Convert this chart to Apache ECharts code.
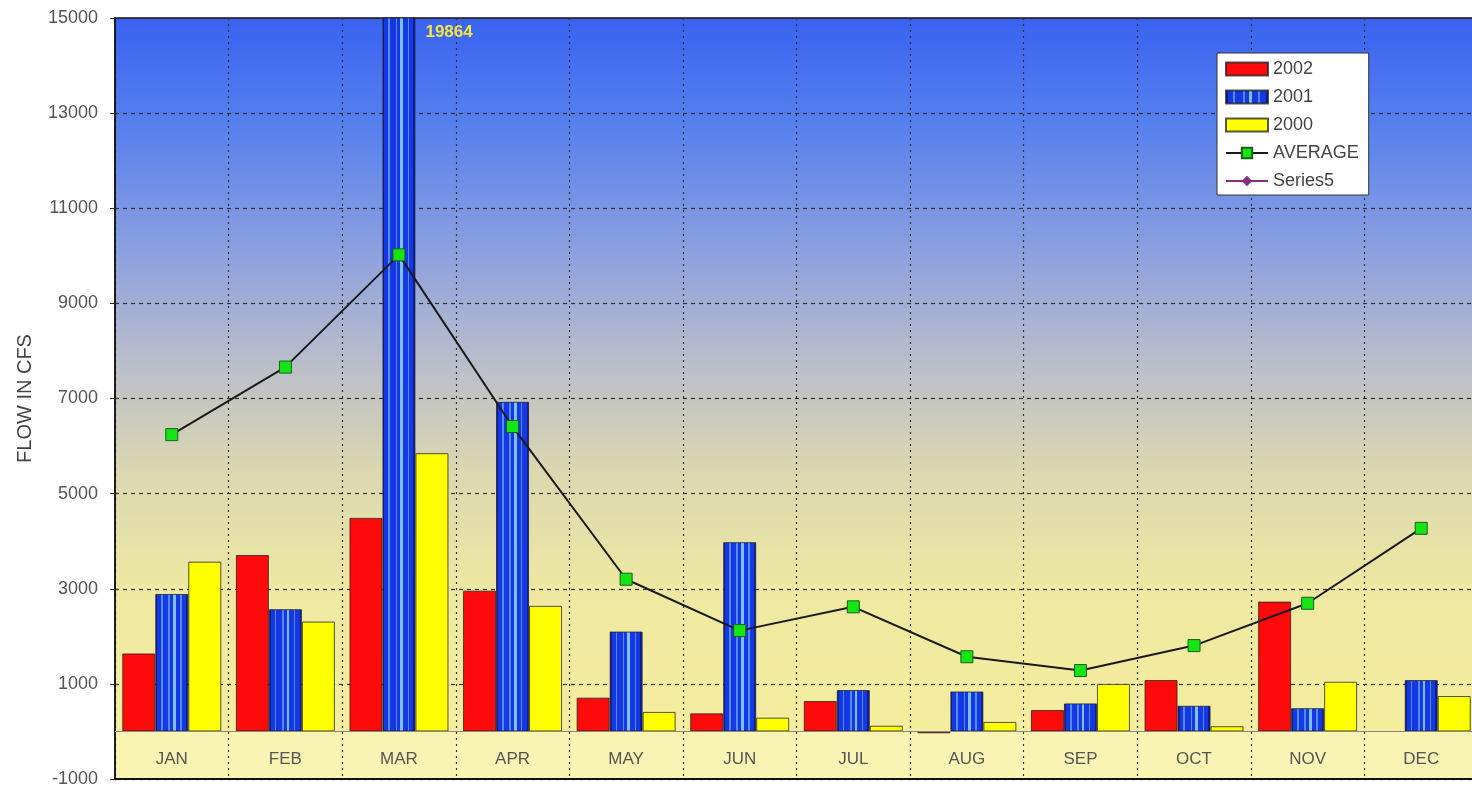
<!DOCTYPE html>
<html>
<head>
<meta charset="utf-8">
<title>Monthly Flow</title>
<script src="https://cdn.jsdelivr.net/npm/echarts@6/dist/echarts.min.js"></script>
<style>
  html, body { margin: 0; padding: 0; background: #ffffff; }
  #chart { width: 1472px; height: 790px; }
</style>
</head>
<body>
<div id="chart"></div>
<script>
// Monthly flow data (cfs)
const months = ['JAN', 'FEB', 'MAR', 'APR', 'MAY', 'JUN', 'JUL', 'AUG', 'SEP', 'OCT', 'NOV', 'DEC'];
const flow2002 = [1640, 3710, 4490, 2960, 710, 380, 640, -40, 450, 1080, 2730, null];
const flow2001 = [2890, 2570, 19864, 6930, 2100, 3980, 870, 840, 590, 540, 490, 1080];
const flow2000 = [3570, 2310, 5850, 2640, 410, 290, 120, 200, 1000, 110, 1045, 745];
const flowAverage = [6240, 7660, 10020, 6410, 3200, 2120, 2620, 1570, 1280, 1805, 2695, 4270];
const series5 = [null, null, null, null, null, null, null, null, null, null, null, null];
const yTicks = { min: -1000, max: 15000, step: 2000 };

const FONT = '"Liberation Sans", Arial, sans-serif';
const chart = echarts.init(document.getElementById('chart'), null, { renderer: 'canvas' });

// Vertical stripes for the 2001 bars via hard-stop horizontal gradient
const stripeBase = '#1538e4';
const stripeLight = '#4f8cff';
const stripeBright = '#7cc0ff';
const stripeStops = [
  [0.00, '#0c1e9a'], [0.06, '#0c1e9a'], [0.06, stripeBase],
  [0.18, stripeBase], [0.18, stripeLight], [0.23, stripeLight], [0.23, stripeBase],
  [0.40, stripeBase], [0.40, stripeLight], [0.45, stripeLight], [0.45, stripeBase],
  [0.54, stripeBase], [0.54, stripeBright], [0.62, stripeBright], [0.62, stripeBase],
  [0.76, stripeBase], [0.76, stripeLight], [0.80, stripeLight], [0.80, stripeBase],
  [0.93, stripeBase], [0.93, '#0c1e9a'], [1.00, '#0c1e9a']
];
const stripeFill = new echarts.graphic.LinearGradient(0, 0, 1, 0,
  stripeStops.map(s => ({ offset: s[0], color: s[1] })));

// Plot background: blue sky fading to pale yellow, lighter band under zero
const bandFrac = 1000 / (yTicks.max - yTicks.min);
const bgFill = new echarts.graphic.LinearGradient(0, 0, 0, 1, [
  { offset: 0.00, color: '#3962f2' },
  { offset: 0.14, color: '#5680ee' },
  { offset: 0.30, color: '#8a9fe0' },
  { offset: 0.45, color: '#b9bdcb' },
  { offset: 0.60, color: '#dcd8b0' },
  { offset: 0.75, color: '#eee8a2' },
  { offset: 1 - bandFrac, color: '#f5ee9e' },
  { offset: 1 - bandFrac, color: '#faf4b4' },
  { offset: 1.00, color: '#faf4b4' }
]);

const peakIndex = 2;
const data2001 = flow2001.map((v, i) => i === peakIndex ? {
  value: v,
  label: {
    show: true,
    position: ['100%', 0],
    offset: [10, 6],
    formatter: String(v),
    color: '#f2e640',
    fontFamily: FONT,
    fontWeight: 'bold',
    fontSize: 17
  }
} : v);

const barBorder = { borderColor: 'rgba(30,30,30,0.75)', borderWidth: 1 };

chart.setOption({
  animation: false,
  textStyle: { fontFamily: FONT },
  grid: {
    left: 115, top: 18, width: 1363, height: 761,
    containLabel: false,
    outerBoundsMode: 'none',
    show: true,
    backgroundColor: bgFill,
    borderColor: '#111',
    borderWidth: 1.5
  },
  legend: {
    orient: 'vertical',
    left: 1217, top: 53,
    backgroundColor: '#ffffff',
    borderColor: '#333',
    borderWidth: 1,
    padding: [7, 10, 5, 8],
    itemGap: 10,
    itemWidth: 42,
    itemHeight: 13,
    textStyle: { fontFamily: FONT, fontSize: 18, color: '#444' },
    data: [
      { name: '2002', icon: 'rect' },
      { name: '2001', icon: 'rect' },
      { name: '2000', icon: 'rect' },
      { name: 'AVERAGE' },
      { name: 'Series5' }
    ]
  },
  xAxis: {
    type: 'category',
    data: months,
    boundaryGap: true,
    axisLine: { onZero: false, lineStyle: { color: '#111', width: 2 } },
    axisTick: { show: false },
    axisLabel: { inside: true, margin: 11, fontFamily: FONT, fontSize: 17, color: '#555' },
    splitLine: { show: true, interval: 0, lineStyle: { color: '#333', type: [2, 4], width: 1.2 } }
  },
  yAxis: {
    type: 'value',
    min: yTicks.min, max: yTicks.max, interval: yTicks.step,
    name: 'FLOW IN CFS',
    nameLocation: 'middle',
    nameGap: 80,
    nameRotate: 90,
    nameTextStyle: { fontFamily: FONT, fontSize: 20, color: '#444' },
    axisLine: { show: true, onZero: false, lineStyle: { color: '#111', width: 1.5 } },
    axisTick: { show: true, length: 5, lineStyle: { color: '#333' } },
    axisLabel: {
      margin: 17, fontFamily: FONT, fontSize: 18, color: '#555',
      formatter: v => String(v)
    },
    splitLine: { show: true, lineStyle: { color: '#333', type: [4, 4], width: 1.2 } }
  },
  series: [
    {
      name: '2002', type: 'bar', data: flow2002,
      barWidth: 33, barGap: '0%',
      itemStyle: Object.assign({ color: '#ff0a0a' }, barBorder),
      // baseline at zero flow, separating the month band below it
      markLine: {
        silent: true,
        symbol: 'none',
        label: { show: false },
        lineStyle: { color: '#8a8a7a', width: 1, type: 'solid' },
        data: [{ yAxis: 0 }]
      }
    },
    {
      name: '2001', type: 'bar', data: data2001,
      barWidth: 33, barGap: '0%', clip: true,
      itemStyle: Object.assign({ color: stripeFill }, barBorder)
    },
    {
      name: '2000', type: 'bar', data: flow2000,
      barWidth: 33, barGap: '0%',
      itemStyle: Object.assign({ color: '#ffff00' }, barBorder)
    },
    {
      name: 'AVERAGE', type: 'line', data: flowAverage,
      symbol: 'rect', symbolSize: 12,
      z: 5,
      lineStyle: { color: '#1a1a1a', width: 2 },
      itemStyle: { color: '#14e614', borderColor: '#1d5e1d', borderWidth: 1 }
    },
    {
      name: 'Series5', type: 'line', data: series5,
      symbol: 'diamond', symbolSize: 6,
      lineStyle: { color: '#8a2a8a', width: 1.5 },
      itemStyle: { color: '#8a2a8a' }
    }
  ]
});
</script>
</body>
</html>
